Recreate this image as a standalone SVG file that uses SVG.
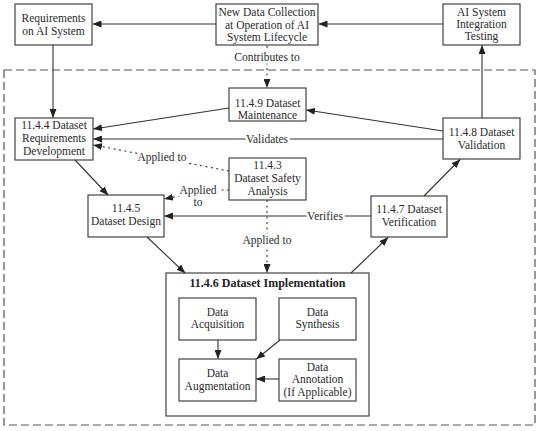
<svg xmlns="http://www.w3.org/2000/svg" width="539" height="431" viewBox="0 0 539 431">
<defs>
<marker id="ah" markerWidth="9" markerHeight="7" refX="8.5" refY="3.5" orient="auto" markerUnits="userSpaceOnUse">
<path d="M0,0 L9,3.5 L0,7 z" fill="#222"/>
</marker>
<style>
.box{fill:#fff;stroke:#444;stroke-width:1.2}
.frame{fill:none;stroke:#444;stroke-width:1.2}
.t{font-family:"Liberation Serif","Times New Roman",serif;font-size:11.5px;fill:#2a2a2a;text-anchor:middle}
.tb{font-family:"Liberation Serif","Times New Roman",serif;font-size:12px;font-weight:bold;fill:#222;text-anchor:middle}
.c{fill:none;stroke:#333;stroke-width:1.1}
.d{fill:none;stroke:#333;stroke-width:1.1;stroke-dasharray:2,3.5}
.lbl{font-family:"Liberation Serif","Times New Roman",serif;font-size:11.5px;fill:#2a2a2a;text-anchor:middle;paint-order:stroke;stroke:#fff;stroke-width:5px;stroke-linejoin:round}
</style>
</defs>
<rect width="539" height="431" fill="#fff"/>
<rect x="4" y="70" width="531" height="355" fill="none" stroke="#555" stroke-width="1.2" stroke-dasharray="8,4"/>

<g id="req-ai">
<rect class="box" x="15" y="4" width="77" height="41"/>
<text class="t" x="53.5" y="22">Requirements</text>
<text class="t" x="53.5" y="35">on AI System</text>
</g>
<g id="new-data">
<rect class="box" x="216" y="4" width="102" height="41"/>
<text class="t" x="267" y="16">New Data Collection</text>
<text class="t" x="267" y="28.5">at Operation of AI</text>
<text class="t" x="267" y="41">System Lifecycle</text>
</g>
<g id="ai-test">
<rect class="box" x="443" y="4" width="77" height="41"/>
<text class="t" x="481.5" y="16">AI System</text>
<text class="t" x="481.5" y="28">Integration</text>
<text class="t" x="481.5" y="40">Testing</text>
</g>
<g id="n449">
<rect class="box" x="229" y="88" width="77" height="33"/>
<text class="t" x="267.5" y="107">11.4.9 Dataset</text>
<text class="t" x="267.5" y="119">Maintenance</text>
</g>
<g id="n444">
<rect class="box" x="15" y="118" width="78" height="42"/>
<text class="t" x="54" y="129">11.4.4 Dataset</text>
<text class="t" x="54" y="142">Requirements</text>
<text class="t" x="54" y="155">Development</text>
</g>
<g id="n448">
<rect class="box" x="443" y="118" width="77" height="41"/>
<text class="t" x="481.5" y="136">11.4.8 Dataset</text>
<text class="t" x="481.5" y="149">Validation</text>
</g>
<g id="n443">
<rect class="box" x="229" y="158" width="77" height="42"/>
<text class="t" x="267.5" y="169">11.4.3</text>
<text class="t" x="267.5" y="182">Dataset Safety</text>
<text class="t" x="267.5" y="195">Analysis</text>
</g>
<g id="n445">
<rect class="box" x="88" y="195" width="76" height="42"/>
<text class="t" x="126" y="212">11.4.5</text>
<text class="t" x="126" y="225">Dataset Design</text>
</g>
<g id="n447">
<rect class="box" x="371" y="196" width="76" height="41"/>
<text class="t" x="409" y="213">11.4.7 Dataset</text>
<text class="t" x="409" y="226">Verification</text>
</g>
<g id="n446">
<rect class="frame" x="166" y="273" width="203" height="143"/>
<text class="tb" x="267.5" y="287">11.4.6 Dataset Implementation</text>
</g>
<g id="acq">
<rect class="box" x="179" y="298" width="77" height="42"/>
<text class="t" x="217.5" y="316">Data</text>
<text class="t" x="217.5" y="328">Acquisition</text>
</g>
<g id="syn">
<rect class="box" x="279" y="298" width="77" height="42"/>
<text class="t" x="317.5" y="316">Data</text>
<text class="t" x="317.5" y="328">Synthesis</text>
</g>
<g id="aug">
<rect class="box" x="179" y="359" width="77" height="42"/>
<text class="t" x="217.5" y="377">Data</text>
<text class="t" x="217.5" y="390">Augmentation</text>
</g>
<g id="ann">
<rect class="box" x="279" y="359" width="77" height="42"/>
<text class="t" x="317.5" y="371">Data</text>
<text class="t" x="317.5" y="383">Annotation</text>
<text class="t" x="317.5" y="396">(If Applicable)</text>
</g>

<g id="connectors">
<line class="c" x1="443" y1="24" x2="319" y2="24" marker-end="url(#ah)"/>
<line class="c" x1="216" y1="24" x2="93" y2="24" marker-end="url(#ah)"/>
<line class="c" x1="53" y1="45" x2="53" y2="117.5" marker-end="url(#ah)"/>
<line class="d" x1="267" y1="46" x2="267" y2="87.5" marker-end="url(#ah)"/>
<line class="c" x1="482" y1="118" x2="482" y2="45.5" marker-end="url(#ah)"/>
<line class="c" x1="443" y1="131" x2="306.5" y2="110" marker-end="url(#ah)"/>
<line class="c" x1="229" y1="108" x2="93.5" y2="129" marker-end="url(#ah)"/>
<line class="c" x1="443" y1="139" x2="93.5" y2="139" marker-end="url(#ah)"/>
<line class="d" x1="229" y1="171" x2="93.5" y2="145" marker-end="url(#ah)"/>
<path class="d" d="M229,190 H208 L164.5,199" marker-end="url(#ah)"/>
<line class="c" x1="75" y1="160" x2="108" y2="195" marker-end="url(#ah)"/>
<line class="c" x1="371" y1="216" x2="164.5" y2="216" marker-end="url(#ah)"/>
<line class="c" x1="424" y1="196" x2="460" y2="159.5" marker-end="url(#ah)"/>
<line class="d" x1="267" y1="200" x2="267" y2="272.5" marker-end="url(#ah)"/>
<line class="c" x1="147" y1="237" x2="185" y2="273" marker-end="url(#ah)"/>
<line class="c" x1="351" y1="273" x2="388" y2="237.5" marker-end="url(#ah)"/>
<line class="c" x1="218" y1="340" x2="218" y2="358.5" marker-end="url(#ah)"/>
<line class="c" x1="280" y1="340" x2="256.5" y2="359" marker-end="url(#ah)"/>
<line class="c" x1="279" y1="379" x2="256.5" y2="379" marker-end="url(#ah)"/>
<text class="lbl" x="267" y="61">Contributes to</text>
<text class="lbl" x="267" y="143">Validates</text>
<text class="lbl" x="162" y="161">Applied to</text>
<text class="lbl" x="198" y="194">Applied</text>
<text class="lbl" x="198" y="206">to</text>
<text class="lbl" x="325" y="220">Verifies</text>
<text class="lbl" x="267" y="244">Applied to</text>
</g>
</svg>
